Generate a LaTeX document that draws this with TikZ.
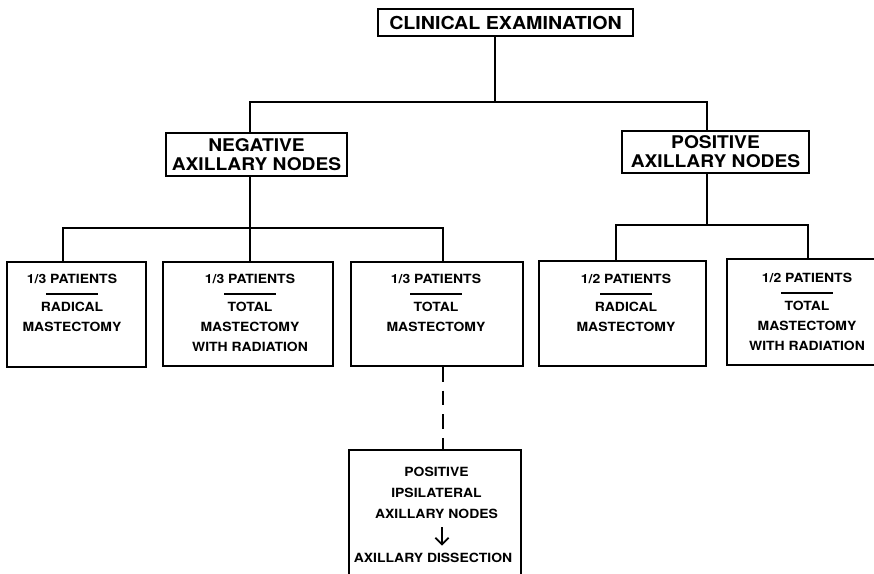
\documentclass[tikz,border=0pt]{standalone}
\usepackage{fontspec}
\setmainfont{TeX Gyre Heros}[FakeStretch=1.1]
\usetikzlibrary{arrows.meta}
\tikzset{every picture/.style={line width=1.4pt}}
\newcommand{\patbar}{\rule{39pt}{1.4pt}}

\begin{document}
\begin{tikzpicture}[x=0.75pt,y=0.75pt,yscale=-1,xscale=1,
  box/.style={draw,inner sep=0pt},
  headtext/.style={font=\fontsize{13.1}{14.25}\selectfont\bfseries,align=center},
  armtext/.style={font=\fontsize{9.5}{15}\selectfont\bfseries,align=center,anchor=north,inner sep=0pt},
  dashline/.style={dash pattern={on 11pt off 6.75pt}}]
\clip (0,0) rectangle (874,574);
% Top box
\node[box,headtext,font=\fontsize{13.4}{15}\selectfont\bfseries,minimum width=191.25pt,minimum height=20.25pt] (exam) at (505.5,22.5) {CLINICAL EXAMINATION};
% Second level
\node[box,headtext,minimum width=135.75pt,minimum height=32.25pt] (negnodes) at (256.5,154.5) {NEGATIVE\\AXILLARY NODES};
\node[box,headtext,minimum width=140.25pt,minimum height=31.5pt] (posnodes) at (715.5,152) {POSITIVE\\AXILLARY NODES};
% Treatment boxes
\node[box,minimum width=104.25pt,minimum height=78.75pt] (radneg) at (76.5,314.5) {};
\node[box,minimum width=127.5pt,minimum height=78pt] (totradneg) at (248,314) {};
\node[box,minimum width=129pt,minimum height=78pt] (totneg) at (437,314) {};
\node[box,minimum width=125.25pt,minimum height=78.75pt] (radpos) at (622.5,313.5) {};
\node[box,minimum width=120.75pt,minimum height=79.5pt] (totradpos) at (807.5,312) {};
% Treatment texts
\node[armtext] (txtradneg) at (72,273) {1/3 PATIENTS\\[-6pt]\patbar\\[-3pt]RADICAL\\MASTECTOMY};
\node[armtext] (txttotradneg) at (250,273) {1/3 PATIENTS\\[-6pt]\patbar\\[-3pt]TOTAL\\MASTECTOMY\\WITH RADIATION};
\node[armtext] (txttotneg) at (436,273) {1/3 PATIENTS\\[-6pt]\patbar\\[-3pt]TOTAL\\MASTECTOMY};
\node[armtext] (txtradpos) at (626,273) {1/2 PATIENTS\\[-6pt]\patbar\\[-3pt]RADICAL\\MASTECTOMY};
\node[armtext] (txttotradpos) at (807,272) {1/2 PATIENTS\\[-6pt]\patbar\\[-3pt]TOTAL\\MASTECTOMY\\WITH RADIATION};
% Bottom box
\node[box,minimum width=129pt,minimum height=96pt] (ipsi) at (435,514) {};
\node[armtext,font=\fontsize{9.5}{15.75}\selectfont\bfseries] (ipsitxt) at (436.5,466) {POSITIVE\\IPSILATERAL\\AXILLARY NODES};
\node[armtext,anchor=base] (dissect) at (433,562) {AXILLARY DISSECTION};
% Junctions
\coordinate (t0) at (495,102);
\coordinate (n0) at (250,102);
\coordinate (p0) at (707,102);
\coordinate (n1) at (63,228);
\coordinate (n2) at (250,228);
\coordinate (n3) at (443,228);
\coordinate (p1) at (616,225);
\coordinate (p2) at (707,225);
\coordinate (p3) at (808,225);
\coordinate (arr) at (442,525);
% Connectors
\draw (t0 |- exam.south) -- (t0);
\draw (n0 |- negnodes.north) -- (n0) -- (p0) -- (p0 |- posnodes.north);
\draw (n2 |- negnodes.south) -- (n2);
\draw (n1 |- radneg.north) -- (n1) -- (n3) -- (n3 |- totneg.north);
\draw (n2) -- (n2 |- totradneg.north);
\draw (p2 |- posnodes.south) -- (p2);
\draw (p1 |- radpos.north) -- (p1) -- (p3) -- (p3 |- totradpos.north);
\draw[dashline] (n3 |- totneg.south) -- (n3 |- ipsi.north);
\draw[-{Straight Barb[length=5pt,width=10pt]},shorten <=6pt,shorten >=4.5pt] (arr |- ipsitxt.south) -- (arr |- dissect.north);
\end{tikzpicture}
\end{document}
